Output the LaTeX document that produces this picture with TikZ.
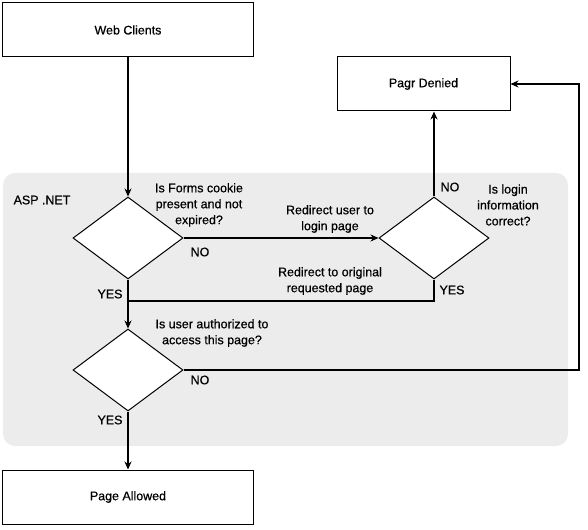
\documentclass[tikz,border=0pt]{standalone}
\usepackage{fontspec}
\setmainfont{Liberation Sans}[FakeBold=0.6]
\usetikzlibrary{shapes.geometric,arrows.meta}
\tikzset{
  flow box/.style={
    draw,
    line width=1bp,
    fill=white,
    minimum width={#1},
    minimum height=54bp,
    font=\fontsize{12.5}{16}\selectfont,
  },
  decision/.style={
    diamond,
    draw,
    line width=1bp,
    fill=white,
    inner sep=0pt,
    minimum width=110bp,
    minimum height=82bp,
  },
  note/.style={
    align=center,
    inner sep=0pt,
    font=\fontsize{12.5}{16}\selectfont,
  },
  flow/.style={
    line width=1.3bp,
  },
  flow arrow/.style={
    flow,
    -{Stealth[length=8bp,width=7bp]},
  }
}

\begin{document}
\begin{tikzpicture}[x=1bp,y=-1bp]
        \useasboundingbox (0,0) rectangle (588,530);
        \fill [gray!15, rounded corners=12bp] (3,173) rectangle (568,446);

        \node [flow box=250bp] (wc) at (128,30) {Web Clients};
        \node [flow box=173bp] (pd) at (423.5,84) {Pagr Denied};
        \node [flow box=250bp] (pa) at (128,497) {Page Allowed};

        \node [decision] (d1) at (128,238) {};
        \node [decision] (d2) at (434,238) {};
        \node [decision] (d3) at (128,370) {};

        \coordinate (merge) at (128,301);
        \coordinate (corner) at (579,370);

        \draw [flow arrow] (wc) -- (d1);
        \draw [flow arrow] (d1) -- (d2);
        \draw [flow arrow] (d2.north) -- (d2.north |- pd.south);
        \draw [flow arrow] (d1) -- (d3);
        \draw [flow] (d2.south) |- (merge);
        \draw [flow arrow] (d3.east) -- (corner) |- (pd.east);
        \draw [flow arrow] (d3) -- (pa);

        \node [note] at (42,200) {ASP .NET};
        \node [note] at (199,205) {Is Forms cookie\\present and not\\expired?};
        \node [note] at (330,219) {Redirect user to\\login page};
        \node [note] at (200,252) {NO};
        \node [note] at (330,281) {Redirect to original\\requested page};
        \node [note] at (110,294) {YES};
        \node [note] at (452,290) {YES};
        \node [note] at (450,187) {NO};
        \node [note] at (508,205) {Is login\\information\\correct?};
        \node [note] at (212,333) {Is user authorized to\\access this page?};
        \node [note] at (200,380) {NO};
        \node [note] at (110,420) {YES};
      \end{tikzpicture}
\end{document}
